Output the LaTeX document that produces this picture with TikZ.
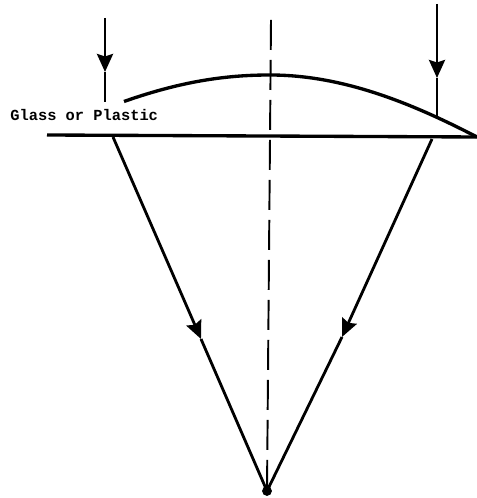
\documentclass[tikz,border=0pt]{standalone}
\usepackage{fontspec}
\setmonofont{Liberation Mono}
\usetikzlibrary{arrows.meta}
\tikzset{
    ray/.style={line width=1.6pt},
    rayhead/.style={ray,-{Stealth[length=0.36cm,width=0.32cm,inset=0.05cm]}},
    axisline/.style={line width=1.1pt,dash pattern=on 0.6cm off 0.2cm},
    glasslabel/.style={inner sep=0pt,anchor=west,font=\ttfamily\bfseries\fontsize{8.75}{10}\selectfont}
}
\begin{document}
\begin{tikzpicture}
    \useasboundingbox (0,0) rectangle (9.54,9.96);
    % points of the rays
    \coordinate (leftTop) at (2.10,9.60);
    \coordinate (leftHead) at (2.10,8.52);
    \coordinate (leftEnd) at (2.10,7.92);
    \coordinate (rightTop) at (8.74,9.88);
    \coordinate (rightHead) at (8.74,8.40);
    \coordinate (rightEnd) at (8.74,7.60);
    \coordinate (leftExit) at (2.26,7.22);
    \coordinate (leftLow) at (4.02,3.18);
    \coordinate (rightExit) at (8.64,7.18);
    \coordinate (rightLow) at (6.84,3.22);
    \coordinate (focus) at (5.34,0.14);
    % incoming rays
    \draw[rayhead] (leftTop) -- (leftHead);
    \draw[ray] (leftHead) -- (leftEnd);
    \draw[rayhead] (rightTop) -- (rightHead);
    \draw[ray] (rightHead) -- (rightEnd);
    % lens surface and flat side
    \draw[line width=1.9pt] (2.48,7.93) .. controls (3.7,8.36) and (4.6,8.46) .. (5.40,8.46)
        .. controls (6.9,8.46) and (8.3,7.86) .. (9.54,7.22);
    \draw[line width=1.9pt] (0.94,7.26) -- (9.54,7.22);
    \node[glasslabel] (glass) at (0.2,7.66) {Glass or Plastic};
    % optical axis
    \draw[axisline] (5.42,9.56) -- (focus);
    % refracted rays
    \draw[rayhead] (leftExit) -- (leftLow);
    \draw[ray] (leftLow) -- (focus);
    \draw[rayhead] (rightExit) -- (rightLow);
    \draw[ray] (rightLow) -- (focus);
    \filldraw (focus) circle (0.09);
\end{tikzpicture}
\end{document}
